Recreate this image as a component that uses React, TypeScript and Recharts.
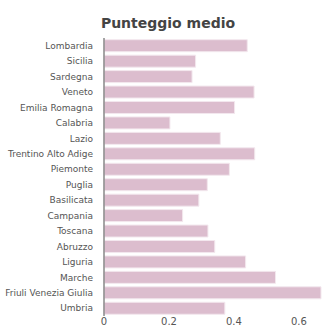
import React from "react";
import { BarChart, Bar, XAxis, YAxis } from "recharts";

const regions = [
  "Lombardia", "Sicilia", "Sardegna", "Veneto", "Emilia Romagna", "Calabria",
  "Lazio", "Trentino Alto Adige", "Piemonte", "Puglia", "Basilicata", "Campania",
  "Toscana", "Abruzzo", "Liguria", "Marche", "Friuli Venezia Giulia", "Umbria",
];
const scores = [
  0.441, 0.282, 0.271, 0.462, 0.402, 0.203,
  0.358, 0.464, 0.386, 0.318, 0.292, 0.242,
  0.32, 0.341, 0.436, 0.528, 0.668, 0.372,
];
const xTicks = [0, 0.2, 0.4, 0.6];

const data = regions.map((r, i) => ({ region: r, score: scores[i] }));

const font = "'DejaVu Sans', Verdana, sans-serif";

function RegionTick({ x, y, payload }: any) {
  return (
    <text x={x - 3} y={y} dy="0.35em" textAnchor="end" fontSize={9} fill="#555" fontFamily={font}>
      {payload.value}
    </text>
  );
}

function ValueTick({ x, y, payload }: any) {
  return (
    <text x={x} y={y} dy={3} textAnchor="middle" fontSize={10} fill="#555" fontFamily={font}>
      {payload.value}
    </text>
  );
}

export default function App() {
  return (
    <div style={{ position: "absolute", left: 0, top: 0, width: 322, height: 326, fontFamily: font, background: "#fff" }}>
      <div
        style={{
          position: "absolute", left: 0, top: 15, width: 336, textAlign: "center",
          fontWeight: "bold", fontSize: 14, color: "#444",
        }}
      >
        Punteggio medio
      </div>
      <BarChart
        width={322}
        height={326}
        data={data}
        layout="vertical"
        margin={{ top: 38, right: 1, left: 0, bottom: 0 }}
        barCategoryGap="11%"
      >
        <XAxis
          type="number"
          domain={[0, "dataMax"]}
          ticks={xTicks}
          tick={<ValueTick />}
          axisLine={false}
          tickLine={false}
          height={10}
          tickMargin={0}
        />
        <YAxis
          type="category"
          dataKey="region"
          width={104}
          interval={0}
          tick={<RegionTick />}
          axisLine={{ stroke: "#888", strokeWidth: 1.5 }}
          tickLine={false}
        />
        <Bar dataKey="score" fill="#dcbdce" stroke="#f3e8ee" strokeWidth={1} isAnimationActive={false} />
      </BarChart>
    </div>
  );
}
